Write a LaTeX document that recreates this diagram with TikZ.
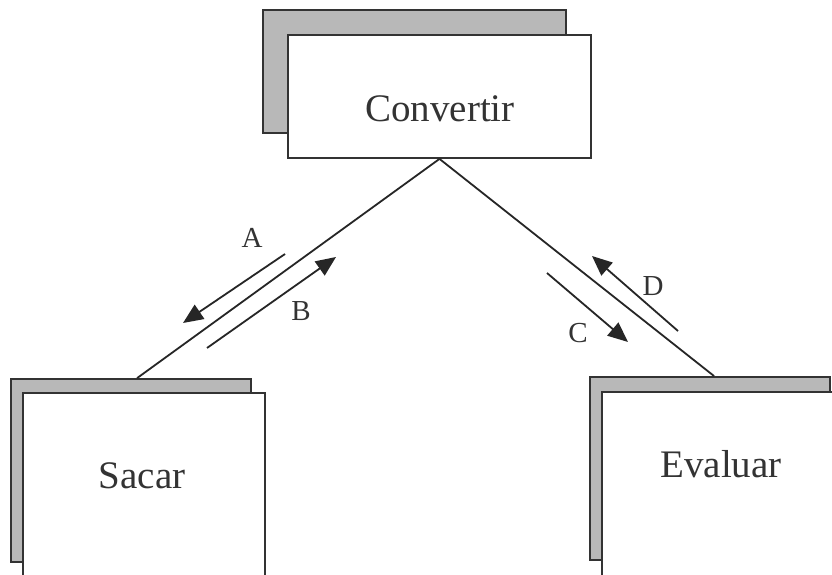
\documentclass[tikz,border=0pt]{standalone}
\usepackage{fontspec}
\setmainfont{Liberation Serif}
\usetikzlibrary{arrows.meta,calc}
\begin{document}
\begin{tikzpicture}[x=1pt,y=1pt,
  backbox/.style={draw=black!80,line width=1.8pt,fill=black!28,rectangle,inner sep=0pt},
  frontbox/.style={draw=black!80,line width=1.8pt,fill=white,rectangle,inner sep=0pt},
  boxtext/.style={font=\fontsize{39}{41}\selectfont,text=black!80,anchor=base,inner sep=0pt},
  lbl/.style={font=\fontsize{29}{30}\selectfont,text=black!80,anchor=base,inner sep=0pt},
  conn/.style={draw=black!85,line width=1.8pt},
  flow/.style={draw=black!85,line width=1.8pt,-{Triangle[length=20pt,width=17pt]}}]
\useasboundingbox (0,0) rectangle (832,574);
\clip (0,0) rectangle (832,574);
\fill[white] (0,0) rectangle (832,574);
% Convertir
\node[backbox,minimum width=303pt,minimum height=123pt] (cb) at (414.5,502.5) {};
\node[frontbox,minimum width=303pt,minimum height=123pt] (cf) at (439.5,477.5) {};
\node[boxtext] (ct) at (440,452) {Convertir};
% Sacar
\node[backbox,minimum width=240pt,minimum height=183pt] (sb) at (131,103.5) {};
\node[frontbox,minimum width=242pt,minimum height=201pt] (sf) at (144,80.5) {};
\node[boxtext] (st) at (142,86) {Sacar};
% Evaluar
\node[backbox,minimum width=240pt,minimum height=183pt] (eb) at (710,105.5) {};
\node[frontbox,minimum width=250pt,minimum height=202pt] (ef) at (727,81) {};
\node[boxtext] (et) at (721,97) {Evaluar};
% connectors
\coordinate (sl) at ($(sb.north west)+(127,0)$);
\coordinate (er) at ($(eb.north west)+(125,0)$);
\draw[conn] (cf.south) -- (sl);
\draw[conn] (cf.south) -- (er);
% flow arrows
\coordinate (a1) at (285,320); \coordinate (a2) at (183,251);
\coordinate (b1) at (207,226); \coordinate (b2) at (336,317);
\coordinate (c1) at (547,301); \coordinate (c2) at (628,232);
\coordinate (d1) at (678,243); \coordinate (d2) at (592,318);
\draw[flow] (a1) -- (a2);
\draw[flow] (b1) -- (b2);
\draw[flow] (c1) -- (c2);
\draw[flow] (d1) -- (d2);
\node[lbl] (la) at (252,327) {A};
\node[lbl] (lb) at (301,254) {B};
\node[lbl] (lc) at (578,232) {C};
\node[lbl] (ld) at (653,279) {D};
\end{tikzpicture}
\end{document}
